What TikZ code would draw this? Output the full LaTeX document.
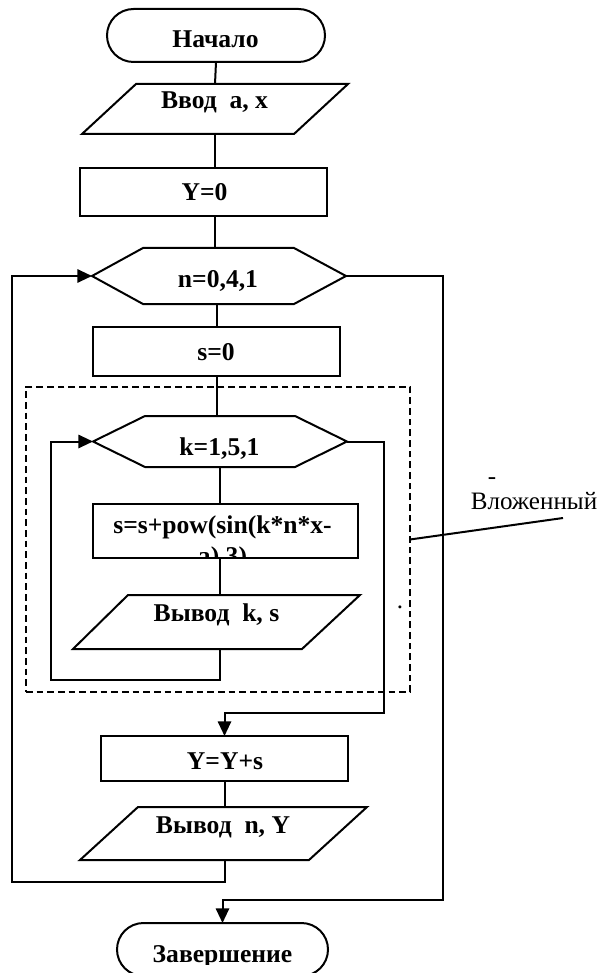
\documentclass[tikz,border=0pt]{standalone}
\usepackage{fontspec}
\setmainfont{Liberation Serif}
\usetikzlibrary{arrows.meta,shapes.misc,calc}
\begin{document}
\begin{tikzpicture}[x=0.75pt,y=-0.75pt,
  flow/.style={line width=1.5pt},
  proc/.style={draw, line width=1.5pt, rectangle, inner sep=0pt, outer sep=0pt},
  term/.style={draw, line width=1.5pt, rounded rectangle, inner sep=0pt, outer sep=0pt},
  frame/.style={rectangle, inner sep=0pt, outer sep=0pt},
  lbl/.style={font=\bfseries\fontsize{19.2}{22}\selectfont, inner sep=0pt, anchor=base},
  note/.style={font=\fontsize{18.8}{22}\selectfont, inner sep=0pt, anchor=base},
  arr/.style={-{Triangle[length=11pt,width=10pt]}},
  nestbox/.style={draw, line width=1.2pt, dash pattern=on 5pt off 3pt, rectangle, inner sep=0pt, outer sep=0pt}]
\useasboundingbox (0,0) rectangle (600,973);
\clip (0,0) rectangle (600,973);
\fill[white] (0,0) rectangle (600,973);

% shapes
\node[term, minimum width=218*0.75pt, minimum height=53*0.75pt] (start) at (216,35.5) {};
\node[frame, minimum width=266*0.75pt, minimum height=50*0.75pt] (in) at (215,109) {};
\node[proc, minimum width=247*0.75pt, minimum height=48*0.75pt] (y0) at (203.5,192) {};
\node[frame, minimum width=254*0.75pt, minimum height=56*0.75pt] (nloop) at (219,276) {};
\node[proc, minimum width=247*0.75pt, minimum height=49*0.75pt] (s0) at (216.5,351.5) {};
\node[nestbox, minimum width=384*0.75pt, minimum height=305*0.75pt] (nest) at (218,539.5) {};
\node[frame, minimum width=254*0.75pt, minimum height=51*0.75pt] (kloop) at (220,441.5) {};
\node[proc, minimum width=265*0.75pt, minimum height=54*0.75pt] (pow) at (225.5,531) {};
\node[frame, minimum width=287*0.75pt, minimum height=54*0.75pt] (outk) at (216.5,622) {};
\node[proc, minimum width=247*0.75pt, minimum height=45*0.75pt] (ysum) at (224.5,758.5) {};
\node[frame, minimum width=287*0.75pt, minimum height=53*0.75pt] (outn) at (223.5,833.5) {};
\node[term, minimum width=211*0.75pt, minimum height=53*0.75pt] (end) at (222.5,949.5) {};

% parallelograms
\draw[flow] (in.south west) -- ($(in.north west)+(54,0)$) -- (in.north east) -- ($(in.south east)+(-54,0)$) -- cycle;
\draw[flow] (outk.south west) -- ($(outk.north west)+(55,0)$) -- (outk.north east) -- ($(outk.south east)+(-58,0)$) -- cycle;
\draw[flow] (outn.south west) -- ($(outn.north west)+(58,0)$) -- (outn.north east) -- ($(outn.south east)+(-58,0)$) -- cycle;
% hexagons
\draw[flow] (nloop.west) -- ($(nloop.north west)+(51,0)$) -- ($(nloop.north east)+(-52,0)$) -- (nloop.east) -- ($(nloop.south east)+(-52,0)$) -- ($(nloop.south west)+(51,0)$) -- cycle;
\draw[flow] (kloop.west) -- ($(kloop.north west)+(52,0)$) -- ($(kloop.north east)+(-52,0)$) -- (kloop.east) -- ($(kloop.south east)+(-52,0)$) -- ($(kloop.south west)+(52,0)$) -- cycle;

% texts
\node[lbl] (tstart) at (215.5,48) {Начало};
\node[lbl] (tin) at (214.5,109) {Ввод~~a, x};
\node[lbl] (ty0) at (204.5,201) {Y=0};
\node[lbl] (tn) at (218,287) {n=0,4,1};
\node[lbl] (ts0) at (216,360) {s=0};
\node[lbl] (tk) at (219.5,455) {k=1,5,1};
\node[lbl] (tpow1) at (222.5,533) {s=s+pow(sin(k*n*x-};
\begin{scope}
\clip (pow.north west) rectangle (pow.south east);
\node[lbl] (tpow2) at (222.5,564) {a),3)};
\end{scope}
\node[lbl] (toutk) at (216.5,621) {Вывод~~k, s};
\node[lbl] (tysum) at (225,769) {Y=Y+s};
\node[lbl] (toutn) at (223,833) {Вывод~~n, Y};
\begin{scope}
\clip (0,900) rectangle (600,964);
\node[lbl] (tend) at (222.5,962) {Завершение};
\end{scope}
\node[note] (tdash) at (492,484) {-};
\node[note] (tnest) at (534,509) {Вложенный};
\node[note] (tdot) at (400,608) {.};

% connectors
\draw[flow] (start.south) -- (in.north);
\draw[flow] (in.south) -- (in.south |- y0.north);
\draw[flow] (in.south |- y0.south) -- (in.south |- nloop.north);
\draw[flow] (s0.north |- nloop.south) -- (s0.north);
\draw[flow] (s0.south) -- (s0.south |- kloop.north);
\draw[flow] (kloop.south) -- (kloop.south |- pow.north);
\draw[flow] (kloop.south |- pow.south) -- (kloop.south |- outk.north);
\coordinate (kb) at (51,680);
\draw[flow,arr] (kloop.south |- outk.south) -- (kloop.south |- kb) -- (kb) -- (kb |- kloop.west) -- (kloop.west);
\coordinate (kr) at (384,713);
\draw[flow,arr] (kloop.east) -- (kr |- kloop.east) -- (kr) -- (kr -| ysum.north) -- (ysum.north);
\draw[flow] (ysum.south) -- (ysum.south |- outn.north);
\coordinate (nb) at (12,882);
\draw[flow,arr] (ysum.south |- outn.south) -- (ysum.south |- nb) -- (nb) -- (nb |- nloop.west) -- (nloop.west);
\coordinate (nr) at (443,900);
\draw[flow,arr] (nloop.east) -- (nr |- nloop.east) -- (nr) -- (nr -| end.north) -- (end.north);
% leader to label
\coordinate (lt) at (563,518);
\draw[flow] (nest.east) -- (lt);
\end{tikzpicture}
\end{document}
